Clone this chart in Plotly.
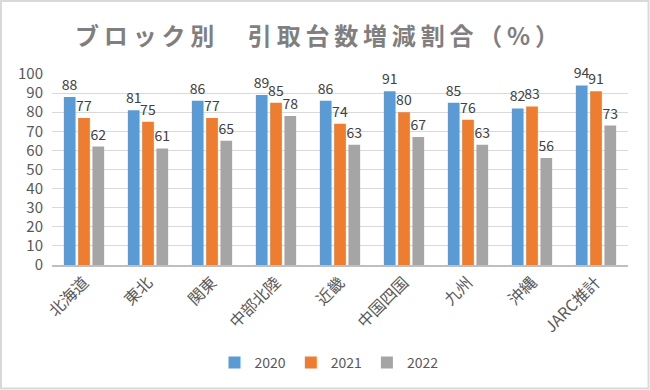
import plotly.graph_objects as go

categories = ["北海道", "東北", "関東", "中部北陸", "近畿", "中国四国", "九州", "沖縄", "JARC推計"]
v2020 = [88, 81, 86, 89, 86, 91, 85, 82, 94]
v2021 = [77, 75, 77, 85, 74, 80, 76, 83, 91]
v2022 = [62, 61, 65, 78, 63, 67, 63, 56, 73]
series_names = ["2020", "2021", "2022"]
colors = ["#5B9BD5", "#ED7D31", "#A5A5A5"]
title_text = "ブロック別　引取台数増減割合（%）"

font_family = "Noto Sans CJK JP, Noto Sans, sans-serif"

W, H = 650, 390
ML, MR, MT, MB = 52, 22, 74, 125

fig = go.Figure()
for name, vals, col in zip(series_names, [v2020, v2021, v2022], colors):
    fig.add_trace(go.Bar(
        x=categories, y=vals, name=name,
        marker=dict(color=col, line=dict(width=0)),
        text=[str(v) for v in vals], textposition="outside",
        textfont=dict(size=14, color="#404040", family=font_family),
        cliponaxis=False,
    ))

spaced_title = "\u2009".join(title_text)

fig.update_layout(
    width=W, height=H,
    paper_bgcolor="white", plot_bgcolor="white",
    margin=dict(l=ML, r=MR, t=MT, b=MB, autoexpand=False),
    barmode="group", bargap=0.33, bargroupgap=0.18,
    title=dict(text=spaced_title, x=317 / W, xanchor="center",
               xref="container", y=1 - 37 / H, yanchor="middle",
               font=dict(size=24, color="#7F7F7F", family=font_family, weight="bold")),
    font=dict(family=font_family, color="#595959", size=13),
    legend=dict(orientation="h", x=329 / W, xanchor="center", xref="container",
                y=1 - 363 / H, yanchor="middle",
                yref="container", itemwidth=30,
                font=dict(size=14, color="#595959"), traceorder="normal"),
    uniformtext=dict(mode="show", minsize=14),
)
fig.update_yaxes(range=[0, 100], dtick=10, showgrid=True, gridcolor="#D9D9D9",
                 gridwidth=1, zeroline=False, showline=False, automargin=False,
                 tickfont=dict(size=15, color="#595959"), ticks="", ticklabelstandoff=8)
fig.update_xaxes(showline=True, linecolor="#BFBFBF", linewidth=1.5, tickangle=-45,
                 automargin=False,
                 tickfont=dict(size=16, color="#595959"), ticks="")

pw = W - ML - MR
ph = H - MT - MB
fig.add_shape(type="rect", xref="paper", yref="paper",
              x0=(1 - ML) / pw, x1=(648.5 - ML) / pw,
              y0=(H - MB - 388.5) / ph, y1=(H - MB - 1) / ph,
              line=dict(color="#D9D9D9", width=2))
fig.write_html("out.html", config={"displayModeBar": False},
               post_script="document.body.style.margin='0';")
